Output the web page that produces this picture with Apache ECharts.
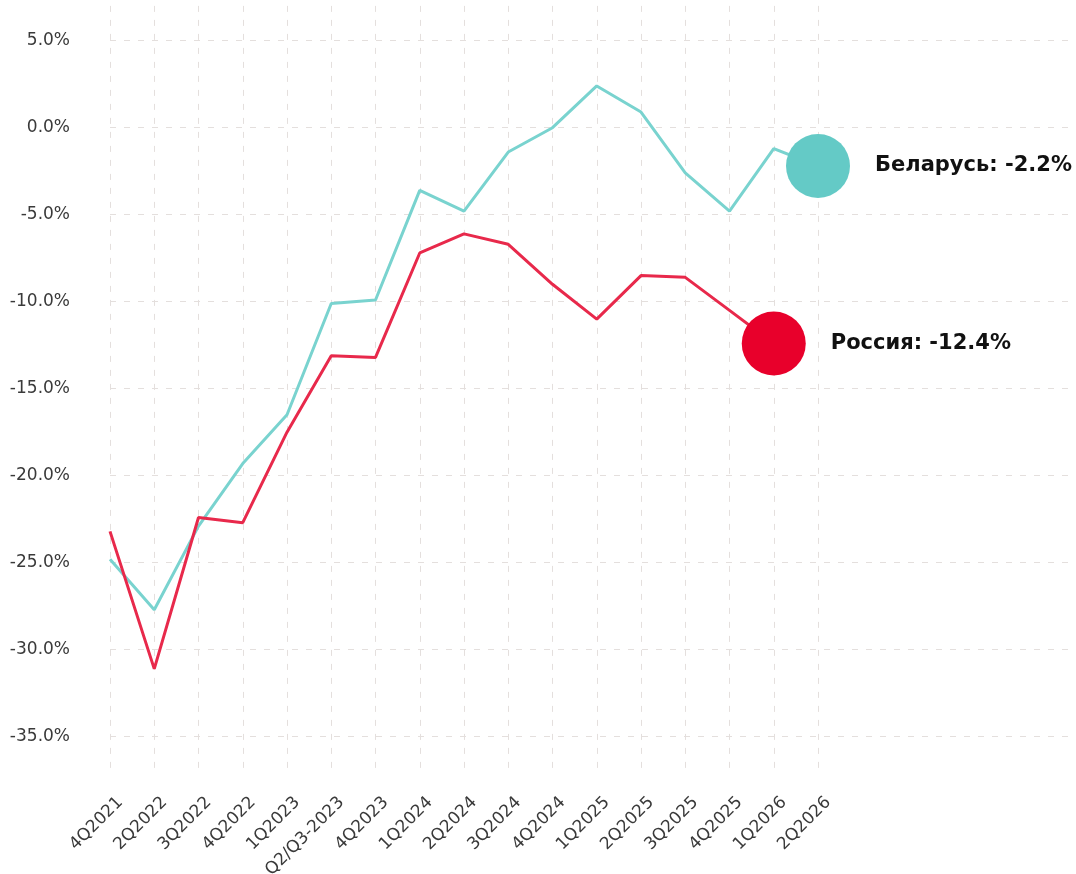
<!DOCTYPE html>
<html>
<head>
<meta charset="utf-8">
<script src="https://cdn.jsdelivr.net/npm/echarts@6/dist/echarts.min.js"></script>
<style>
html,body{margin:0;padding:0;background:#fff;}
#chart{width:1076px;height:874px;}
</style>
</head>
<body>
<div id="chart"></div>
<script>
const categories = ['4Q2021','2Q2022','3Q2022','4Q2022','1Q2023','Q2/Q3-2023','4Q2023','1Q2024','2Q2024','3Q2024','4Q2024','1Q2025','2Q2025','3Q2025','4Q2025','1Q2026','2Q2026'];
const belarus = [-24.8,-27.7,-22.9,-19.3,-16.5,-10.1,-9.9,-3.6,-4.8,-1.4,0.0,2.4,0.9,-2.6,-4.8,-1.2,-2.2];
const russia = [-23.2,-31.1,-22.4,-22.7,-17.5,-13.1,-13.2,-7.2,-6.1,-6.7,-9.0,-11.0,-8.5,-8.6,-10.5,-12.4,null];
const seriesNames = ['Беларусь','Россия'];
const yTickMin = -35, yTickMax = 5, yTickStep = 5;
const yDataMin = -37, yDataMax = 7;

const FONT = 'DejaVu Sans';
const gridTop = 40.7, gridH = 696;
const pxPer = gridH / (yTickMax - yTickMin);
const dataTop = gridTop - (yDataMax - yTickMax) * pxPer;
const dataH = (yDataMax - yDataMin) * pxPer;

function lastPoint(arr){
  for (let i = arr.length - 1; i >= 0; i--) if (arr[i] !== null) return [i, arr[i]];
}
const bLast = lastPoint(belarus), rLast = lastPoint(russia);

const chart = echarts.init(document.getElementById('chart'), null, {renderer:'canvas'});
const gridColor = '#e4dfdd';
const endLabel = (name, v) => ({
  show:true, position:'right', distance:25,
  formatter:()=>name+': '+v.toFixed(1)+'%',
  fontFamily:FONT, fontWeight:'bold', fontSize:21, color:'#111'
});
chart.setOption({
  backgroundColor:'#fff',
  animation:false,
  grid:[
    {left:110, right:1076-818, top:dataTop, height:dataH, containLabel:false, outerBoundsMode:'none'},
    {left:110, right:0, top:gridTop, height:gridH, containLabel:false, outerBoundsMode:'none'}
  ],
  xAxis:[
    {type:'category', gridIndex:0, data:categories, boundaryGap:false,
     axisLine:{show:false}, axisTick:{show:false},
     axisLabel:{rotate:45, margin:18, fontFamily:FONT, fontSize:17, color:'#3a3a3a', interval:0,
       verticalAlign:'top', padding:[6,0,0,0]},
     splitLine:{show:true, lineStyle:{color:gridColor, type:[6,8], width:1}}},
    {type:'value', gridIndex:1, show:false, min:0, max:1}
  ],
  yAxis:[
    {type:'value', gridIndex:0, min:yDataMin, max:yDataMax, show:false, splitLine:{show:false}},
    {type:'value', gridIndex:1, min:yTickMin, max:yTickMax, interval:yTickStep,
     axisLine:{show:false}, axisTick:{show:false},
     axisLabel:{margin:40, fontFamily:FONT, fontSize:17, color:'#3a3a3a',
       formatter:v=>v.toFixed(1)+'%'},
     splitLine:{show:true, lineStyle:{color:gridColor, type:[6,8], width:1}}}
  ],
  series:[
    {name:seriesNames[0], type:'line', xAxisIndex:0, yAxisIndex:0, data:belarus,
     showSymbol:false, symbol:'none', lineStyle:{color:'#79d3cf', width:3}, z:2},
    {name:seriesNames[1], type:'line', xAxisIndex:0, yAxisIndex:0, data:russia,
     showSymbol:false, symbol:'none', connectNulls:false, lineStyle:{color:'#e8294b', width:3}, z:2},
    {type:'scatter', xAxisIndex:0, yAxisIndex:0, data:[bLast], symbolSize:64,
     itemStyle:{color:'#64cac6', opacity:1}, z:5, label:endLabel(seriesNames[0], bLast[1])},
    {type:'scatter', xAxisIndex:0, yAxisIndex:0, data:[rLast], symbolSize:64,
     itemStyle:{color:'#e8002b', opacity:1}, z:5, label:endLabel(seriesNames[1], rLast[1])}
  ]
});
</script>
</body>
</html>
